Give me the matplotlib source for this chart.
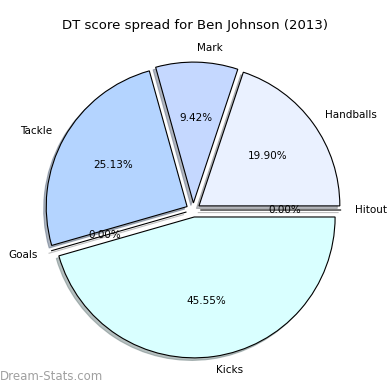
import matplotlib
matplotlib.use("Agg")
import matplotlib.pyplot as plt

labels = ['Hitout', 'Handballs', 'Mark', 'Tackle', 'Goals', 'Kicks']
values = [0.00, 19.90, 9.42, 25.13, 0.00, 45.55]
colors = ['#ffffff', '#eaf1ff', '#c5d8ff', '#b4d4ff', '#ffffff', '#d9ffff']
explode = [0.05] * len(values)

fig = plt.figure(figsize=(3.9, 3.9), dpi=100)
ax = fig.add_axes([0.044, 0.01, 0.903, 0.903])

wedges, texts, autotexts = ax.pie(values, labels=labels, colors=colors, explode=explode,
                                  autopct='%1.2f%%', startangle=0,
                                  shadow={'ox': -0.013, 'oy': -0.013, 'shade': 0.5},
                                  wedgeprops={'edgecolor': 'black', 'linewidth': 0.8},
                                  textprops={'fontsize': 7.5})
ax.set_aspect('equal')

fig.text(0.5, 0.935, 'DT score spread for Ben Johnson (2013)', ha='center', va='center', fontsize=9.5)

# marca de agua
fig.text(0.0, 0.035, 'Dream-Stats.com', ha='left', va='center', fontsize=8.5,
         color='#a0a0a0')

fig.savefig('out.png', dpi=100)
